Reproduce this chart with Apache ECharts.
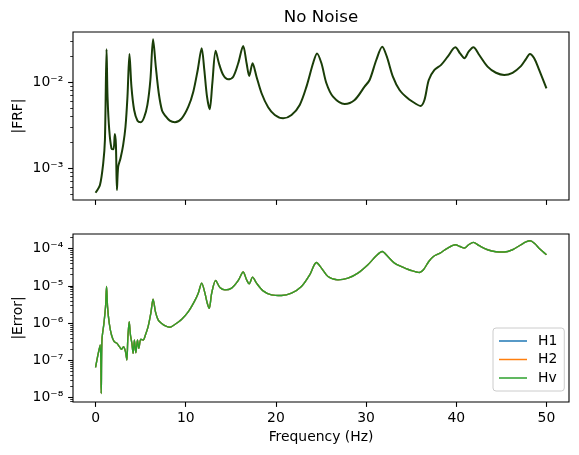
<!DOCTYPE html>
<html><head><meta charset="utf-8">
<script src="https://cdn.jsdelivr.net/npm/echarts@6/dist/echarts.min.js"></script>
<style>html,body{margin:0;padding:0;background:#fff}#c{width:579px;height:455px}</style>
</head><body><div id="c"></div>
<script>
const FONT = 'DejaVu Sans';
const xTicks = [0, 10, 20, 30, 40, 50];
const frfMajor = [1e-3, 1e-2];
const frfMinor = [5e-4, 6e-4, 7e-4, 8e-4, 9e-4, 2e-3, 3e-3, 4e-3, 5e-3, 6e-3, 7e-3, 8e-3, 9e-3, 2e-2, 3e-2];
const errMajor = [1e-8, 1e-7, 1e-6, 1e-5, 1e-4];
const errMinor = [8e-9, 9e-9,
  2e-8, 3e-8, 4e-8, 5e-8, 6e-8, 7e-8, 8e-8, 9e-8,
  2e-7, 3e-7, 4e-7, 5e-7, 6e-7, 7e-7, 8e-7, 9e-7,
  2e-6, 3e-6, 4e-6, 5e-6, 6e-6, 7e-6, 8e-6, 9e-6,
  2e-5, 3e-5, 4e-5, 5e-5, 6e-5, 7e-5, 8e-5, 9e-5, 2e-4];
const frfRange = [4.25e-4, 0.0381];
const errRange = [7.6e-9, 2.49e-4];

const frfFreq = [0, 0.49, 0.85, 1.04, 1.22, 1.33, 1.52, 1.77, 1.99, 2.14, 2.26, 2.37, 2.51, 2.77, 3.06, 3.32, 3.54, 3.76, 3.98, 4.28, 4.65, 5.02, 5.39, 5.75, 6.08, 6.38, 6.68, 7.01, 7.38, 7.74, 8.23, 8.8, 9.56, 10.29, 10.84, 11.33, 11.77, 12.06, 12.36, 12.66, 12.95, 13.32, 13.68, 14.16, 14.71, 15.27, 15.82, 16.37, 16.75, 17.04, 17.41, 17.85, 18.41, 19.14, 19.88, 20.8, 21.73, 22.64, 23.39, 24.12, 24.56, 25.05, 25.6, 26.33, 27.62, 28.73, 29.83, 30.39, 31.13, 31.79, 32.3, 32.97, 33.71, 34.62, 35.55, 36.03, 36.47, 36.95, 37.58, 38.32, 39.05, 39.9, 40.42, 40.9, 41.37, 41.89, 42.55, 43.47, 44.4, 45.32, 46.24, 47.17, 47.72, 48.16, 48.64, 49.19, 50];
const frfValues = [5.16e-4, 6.34e-4, 1.135e-3, 2.12e-3, 2.40e-2, 6.75e-3, 2.77e-3, 1.69e-3, 1.65e-3, 2.48e-3, 1.85e-3, 5.55e-4, 1.035e-3, 1.30e-3, 1.85e-3, 3.02e-3, 6.75e-3, 2.12e-2, 8.83e-3, 4.72e-3, 3.55e-3, 3.40e-3, 3.89e-3, 5.41e-3, 1.054e-2, 3.14e-2, 1.51e-2, 7.40e-3, 4.63e-3, 4.03e-3, 3.55e-3, 3.40e-3, 3.78e-3, 5.16e-3, 7.71e-3, 1.38e-2, 2.47e-2, 1.38e-2, 6.75e-3, 4.81e-3, 9.66e-3, 2.31e-2, 1.65e-2, 1.205e-2, 1.074e-2, 1.153e-2, 1.65e-2, 2.62e-2, 1.65e-2, 1.175e-2, 1.65e-2, 1.153e-2, 7.40e-3, 5.08e-3, 4.13e-3, 3.78e-3, 4.13e-3, 5.41e-3, 8.83e-3, 1.65e-2, 2.15e-2, 1.65e-2, 9.66e-3, 6.75e-3, 5.55e-3, 6.18e-3, 8.83e-3, 1.054e-2, 1.80e-2, 2.57e-2, 1.97e-2, 1.153e-2, 8.07e-3, 6.46e-3, 5.55e-3, 5.26e-3, 6.18e-3, 1.054e-2, 1.38e-2, 1.58e-2, 1.97e-2, 2.53e-2, 2.15e-2, 1.89e-2, 2.25e-2, 2.53e-2, 2.06e-2, 1.51e-2, 1.28e-2, 1.205e-2, 1.28e-2, 1.53e-2, 1.84e-2, 2.12e-2, 1.89e-2, 1.38e-2, 8.45e-3];

const errFreq = [0, 0.3, 0.52, 0.63, 0.71, 0.93, 1.11, 1.22, 1.33, 1.52, 1.77, 2.07, 2.37, 2.65, 2.88, 3.1, 3.32, 3.47, 3.58, 3.73, 3.87, 4.03, 4.17, 4.31, 4.47, 4.65, 4.8, 5.02, 5.28, 5.53, 5.83, 6.13, 6.38, 6.64, 6.94, 7.3, 7.74, 8.23, 8.71, 9.56, 10.29, 10.95, 11.39, 11.77, 12.13, 12.39, 12.61, 12.88, 13.32, 13.79, 14.35, 15.09, 15.82, 16.37, 16.75, 17.04, 17.41, 17.85, 18.58, 19.51, 20.62, 21.73, 22.83, 23.75, 24.49, 25.05, 25.77, 26.88, 27.99, 29.09, 30.2, 31.13, 31.79, 32.41, 33.15, 34.07, 35.0, 35.92, 36.36, 36.95, 37.47, 38.21, 39.05, 39.9, 40.42, 40.9, 41.37, 41.89, 42.55, 43.47, 44.4, 45.32, 46.24, 47.17, 47.72, 48.2, 48.72, 49.27, 50];
const errValues = [6.47e-8, 1.545e-7, 2.58e-7, 1.29e-8, 3.52e-7, 9.93e-7, 2.79e-6, 9.64e-6, 2.79e-6, 9.93e-7, 4.81e-7, 3.17e-7, 2.87e-7, 2.33e-7, 1.98e-7, 2.33e-7, 1.71e-7, 1.02e-7, 3.92e-7, 1.10e-6, 4.81e-7, 2.87e-7, 1.545e-7, 3.52e-7, 1.60e-7, 3.52e-7, 2.10e-7, 3.68e-7, 3.52e-7, 4.81e-7, 8.05e-7, 1.85e-6, 4.41e-6, 2.04e-6, 1.22e-6, 9.93e-7, 8.41e-7, 7.76e-7, 8.93e-7, 1.27e-6, 2.04e-6, 3.80e-6, 6.40e-6, 1.19e-5, 6.40e-6, 3.44e-6, 2.52e-6, 6.40e-6, 1.40e-5, 9.06e-6, 7.85e-6, 8.73e-6, 1.40e-5, 2.36e-5, 1.46e-5, 1.14e-5, 1.73e-5, 1.19e-5, 7.38e-6, 5.75e-6, 5.52e-6, 6.40e-6, 9.64e-6, 1.99e-5, 4.28e-5, 3.02e-5, 1.79e-5, 1.46e-5, 1.62e-5, 2.21e-5, 3.71e-5, 6.47e-5, 8.45e-5, 6.19e-5, 4.12e-5, 3.21e-5, 2.60e-5, 2.30e-5, 2.72e-5, 4.55e-5, 6.19e-5, 7.66e-5, 1.045e-4, 1.28e-4, 1.15e-4, 1.045e-4, 1.28e-4, 1.48e-4, 1.205e-4, 9.40e-5, 8.30e-5, 8.15e-5, 9.40e-5, 1.28e-4, 1.52e-4, 1.64e-4, 1.36e-4, 9.82e-5, 6.89e-5];

const seriesNames = ['H1', 'H2', 'Hv'];
const seriesColors = ['#1f77b4', '#ff7f0e', '#2ca02c'];

const SUP = {'-': '\u207B', '0': '\u2070', '1': '\u00B9', '2': '\u00B2', '3': '\u00B3', '4': '\u2074', '5': '\u2075', '6': '\u2076', '7': '\u2077', '8': '\u2078', '9': '\u2079'};
function powLabel(v) {
  const e = Math.round(Math.log10(v));
  return '10' + String(e).split('').map(c => SUP[c]).join('');
}

const frfData = frfFreq.map((f, i) => [f, frfValues[i]]);
const errData = errFreq.map((f, i) => [f, errValues[i]]);

const txt = {color: '#000', fontFamily: FONT, fontSize: 13.9};
const tickStyle = {color: '#000', width: 1.1};

function xAxisCfg(gi, showLabels) {
  const a = {
    gridIndex: gi, type: 'value', min: -2.5, max: 52.5,
    axisLine: {show: false, onZero: false}, splitLine: {show: false},
    axisTick: {show: true, inside: false, length: 4.9, customValues: xTicks, lineStyle: tickStyle},
    axisLabel: Object.assign({show: showLabels, customValues: xTicks, margin: 9.8}, txt)
  };
  if (showLabels) {
    a.name = 'Frequency (Hz)'; a.nameLocation = 'middle'; a.nameGap = 28;
    a.nameMoveOverlap = false;
    a.nameTextStyle = txt;
  }
  return a;
}
// log axis carrying the data and the decade labels
function yLog(gi, range, name) {
  return {
    gridIndex: gi, type: 'log', logBase: 10, position: 'left', min: range[0], max: range[1],
    axisLine: {show: false, onZero: false}, splitLine: {show: false},
    axisTick: {show: false},
    axisLabel: Object.assign({show: true, margin: 9.8, formatter: powLabel, showMinLabel: false, showMaxLabel: false}, txt),
    name: name, nameLocation: 'middle', nameRotate: 90, nameGap: 48, nameMoveOverlap: false, nameTextStyle: txt
  };
}
// decorative tick axis: positions of log ticks in decade units
function yTicks(gi, range, ticks, len, w) {
  return {
    gridIndex: gi, type: 'value', position: 'left', min: Math.log10(range[0]), max: Math.log10(range[1]),
    axisLine: {show: false, onZero: false}, splitLine: {show: false},
    axisTick: {show: true, inside: false, length: len, customValues: ticks.map(Math.log10), lineStyle: {color: '#000', width: w}},
    axisLabel: {show: false}
  };
}

const chart = echarts.init(document.getElementById('c'), null, {renderer: 'canvas'});
const gridBase = {show: true, borderColor: '#000', borderWidth: 1.1, backgroundColor: 'rgba(0,0,0,0)', containLabel: false, outerBoundsMode: 'none'};
chart.setOption({
  animation: false,
  backgroundColor: '#fff',
  title: {text: 'No Noise', left: 321, top: 9, padding: 0, textAlign: 'center',
    textStyle: {color: '#000', fontFamily: FONT, fontSize: 16.7, fontWeight: 'normal'}},
  legend: {
    data: seriesNames, orient: 'vertical', left: 493, top: 328, icon: 'rect',
    itemWidth: 28, itemHeight: 1.5, itemGap: 4.5, padding: [6, 7, 6, 6],
    borderColor: '#cccccc', borderWidth: 1, borderRadius: 3, backgroundColor: 'rgba(255,255,255,0.8)',
    textStyle: Object.assign({padding: [0, 0, 0, 6]}, txt), selectedMode: false
  },
  grid: [
    Object.assign({left: 73, top: 32, width: 496, height: 168}, gridBase),
    Object.assign({left: 73, top: 234, width: 496, height: 168}, gridBase)
  ],
  xAxis: [xAxisCfg(0, false), xAxisCfg(1, true)],
  yAxis: [
    yLog(0, frfRange, '|FRF|'),
    yTicks(0, frfRange, frfMajor, 4.9, 1.1),
    yTicks(0, frfRange, frfMinor, 2.8, 0.8),
    yLog(1, errRange, '|Error|'),
    yTicks(1, errRange, errMajor, 4.9, 1.1),
    yTicks(1, errRange, errMinor, 2.8, 0.8)
  ],
  series: [
    {name: 'FRF', type: 'line', xAxisIndex: 0, yAxisIndex: 0, data: frfData, symbol: 'none', showSymbol: false,
      smooth: 0.3, lineStyle: {color: '#1a3d08', width: 2}, itemStyle: {color: '#1a3d08'}, silent: true}
  ].concat(seriesNames.map((n, i) => ({
    name: n, type: 'line', xAxisIndex: 1, yAxisIndex: 3, data: errData, symbol: 'none', showSymbol: false,
    smooth: 0.3, lineStyle: {color: seriesColors[i], width: 1.4}, itemStyle: {color: seriesColors[i]}, silent: true
  })))
});
</script></body></html>
